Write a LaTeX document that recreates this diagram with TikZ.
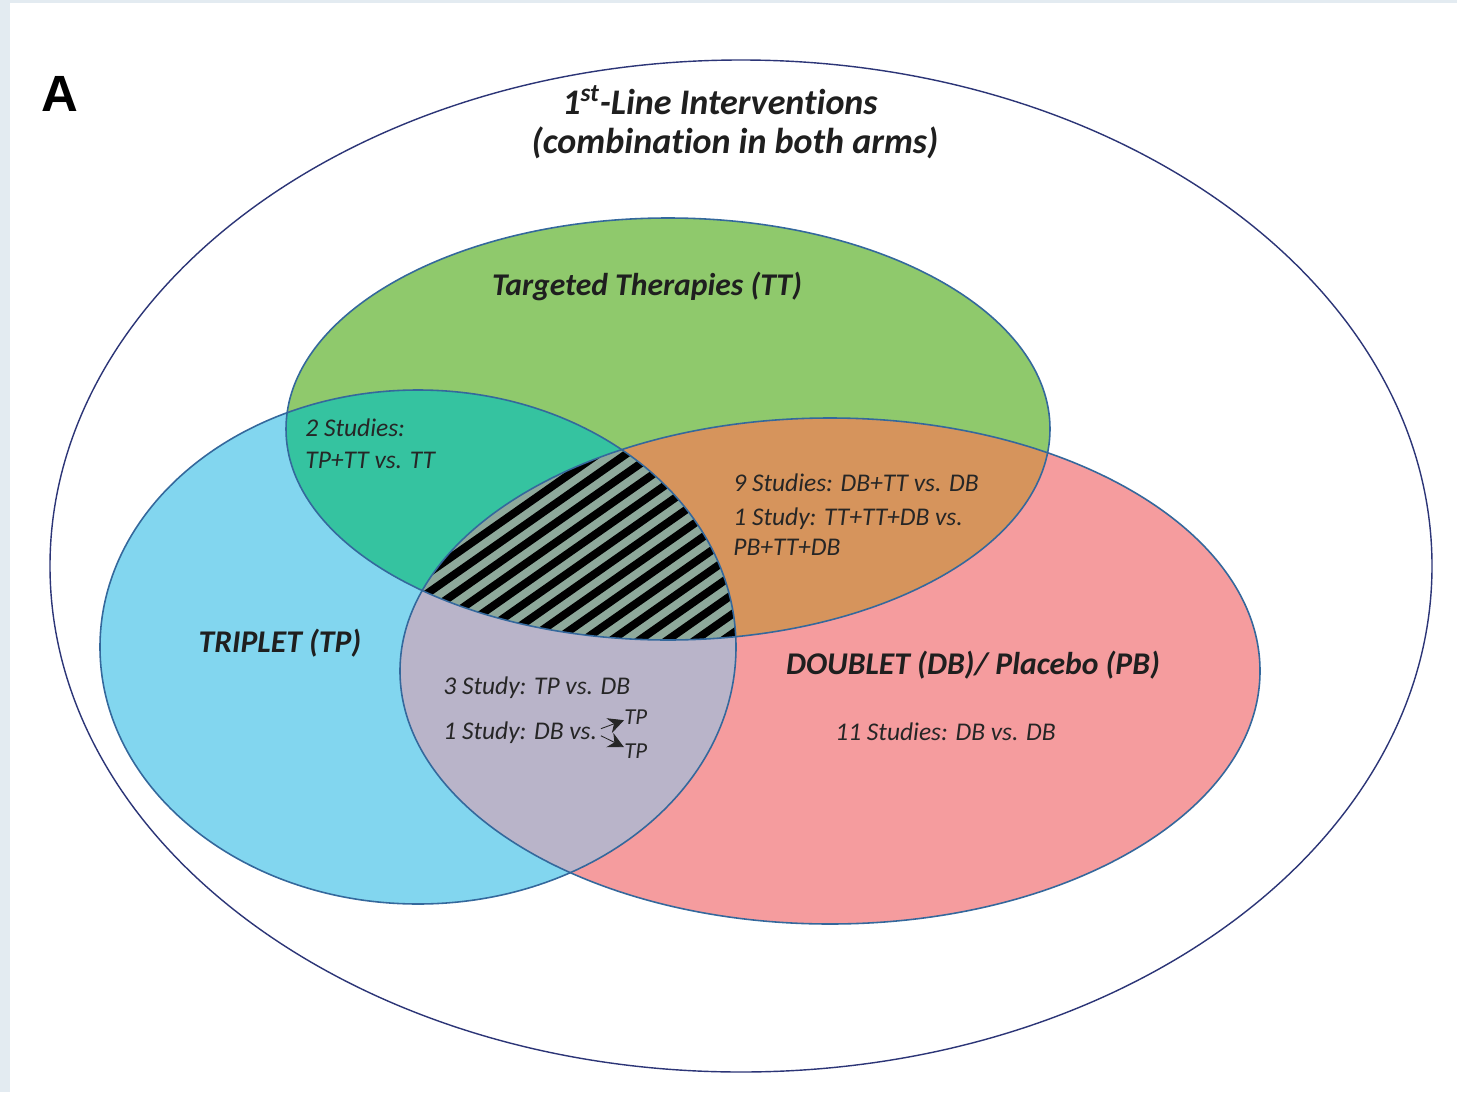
\documentclass[tikz,border=0pt]{standalone}
\usepackage{fontspec}
\setmainfont{Carlito}[Ligatures=NoCommon]
\newfontfamily\panelfont{Liberation Sans}
\usetikzlibrary{positioning, arrows.meta, calc}
\definecolor{pageblue}{HTML}{E3EBF1}
\definecolor{ttgreen}{HTML}{8FC96C}
\definecolor{tpblue}{HTML}{82D6EF}
\definecolor{dbred}{HTML}{F59C9E}
\definecolor{tealmix}{HTML}{35C3A0}
\definecolor{orangemix}{HTML}{D6945C}
\definecolor{lilacmix}{HTML}{B9B4C9}
\definecolor{coremix}{HTML}{8EA99B}
\definecolor{rimblue}{HTML}{34689C}
\definecolor{outernavy}{HTML}{2C3577}
\tikzset{
    ttshape/.style={insert path={(668,429) ellipse [x radius=382, y radius=211]}},
    tpshape/.style={insert path={(418,647) ellipse [x radius=318, y radius=257]}},
    dbshape/.style={insert path={(830,671) ellipse [x radius=430, y radius=253]}},
    rim/.style={draw=rimblue, line width=0.9pt},
    setlabel/.style={font=\fontsize{18}{22}\selectfont\bfseries\itshape, text=black!88, inner sep=0pt},
    titletext/.style={font=\fontsize{20.5}{24}\selectfont\bfseries\itshape, text=black!88, inner sep=0pt},
    studytext/.style={font=\fontsize{14.5}{17}\selectfont\itshape, text=black!85, anchor=base west, inner sep=0pt},
    tiparrow/.style={-{Stealth[length=9pt,width=9pt]}, line width=0.5pt, black!85}
}
\begin{document}
\begin{tikzpicture}[x=0.02cm,y=-0.02cm]
    % page
    \fill[pageblue] (0,0) rectangle (1457,1092);
    \fill[white] (10,3) rectangle (1457,1092);
    \useasboundingbox (0,0) rectangle (1457,1092);
    % the three sets
    \fill[ttgreen, ttshape];
    \fill[tpblue, tpshape];
    \fill[dbred, dbshape];
    \begin{scope}
        \clip[ttshape];
        \fill[tealmix, tpshape];
        \fill[orangemix, dbshape];
    \end{scope}
    \begin{scope}
        \clip[tpshape];
        \fill[lilacmix, dbshape];
    \end{scope}
    % centre, hatched
    \begin{scope}
        \clip[ttshape];
        \clip[tpshape];
        \clip[dbshape];
        \fill[coremix] (300,400) rectangle (800,700);
        \foreach \o in {-160,-144,...,160}
            \draw[line width=4.5pt, black] ({580+0.574*\o-0.819*260},{545+0.819*\o+0.574*260}) -- ({580+0.574*\o+0.819*260},{545+0.819*\o-0.574*260});
    \end{scope}
    \draw[rim, ttshape];
    \draw[rim, tpshape];
    \draw[rim, dbshape];
    \draw[outernavy, line width=0.8pt] (741,566) ellipse [x radius=691, y radius=506];
    % labels
    \node[font=\panelfont\bfseries\fontsize{29}{32}\selectfont, inner sep=0pt] (panel) at (60,94) {A};
    \node[titletext] (title) at (720,100) {1\textsuperscript{st}-Line Interventions};
    \node[titletext] (subtitle) at (735,143) {(combination\ in\ both\ arms)};
    \node[setlabel] (ttlabel) at (647,286) {Targeted Therapies (TT)};
    \node[setlabel] (tplabel) at (280,643) {TRIPLET (TP)};
    \node[setlabel] (dblabel) at (973,665) {DOUBLET (DB)/ Placebo (PB)};
    \node[studytext] (tttpa) at (305,436) {2 Studies:};
    \node[studytext] (tttpb) at (305,468) {TP+TT vs. TT};
    \node[studytext] (ttdba) at (733,491) {9 Studies: DB+TT vs. DB};
    \node[studytext] (ttdbb) at (733,525) {1 Study: TT+TT+DB vs.};
    \node[studytext] (ttdbc) at (733,555) {PB+TT+DB};
    \node[studytext] (tpdba) at (443,694) {3 Study: TP vs. DB};
    \node[studytext] (tpdbb) at (443,739) {1 Study: DB vs.};
    \node[studytext, font=\fontsize{13}{15}\selectfont\itshape] (tpup) at (624,724) {TP};
    \node[studytext, font=\fontsize{13}{15}\selectfont\itshape] (tpdown) at (624,758) {TP};
    \node[studytext] (dbdb) at (835,740) {11 Studies: DB vs. DB};
    \draw[tiparrow] ([xshift=2pt,yshift=2pt]tpdbb.east) -- ([xshift=0pt,yshift=-2pt]tpup.west);
    \draw[tiparrow] ([xshift=2pt,yshift=-2pt]tpdbb.east) -- ([xshift=0pt,yshift=2pt]tpdown.west);
\end{tikzpicture}
\end{document}
